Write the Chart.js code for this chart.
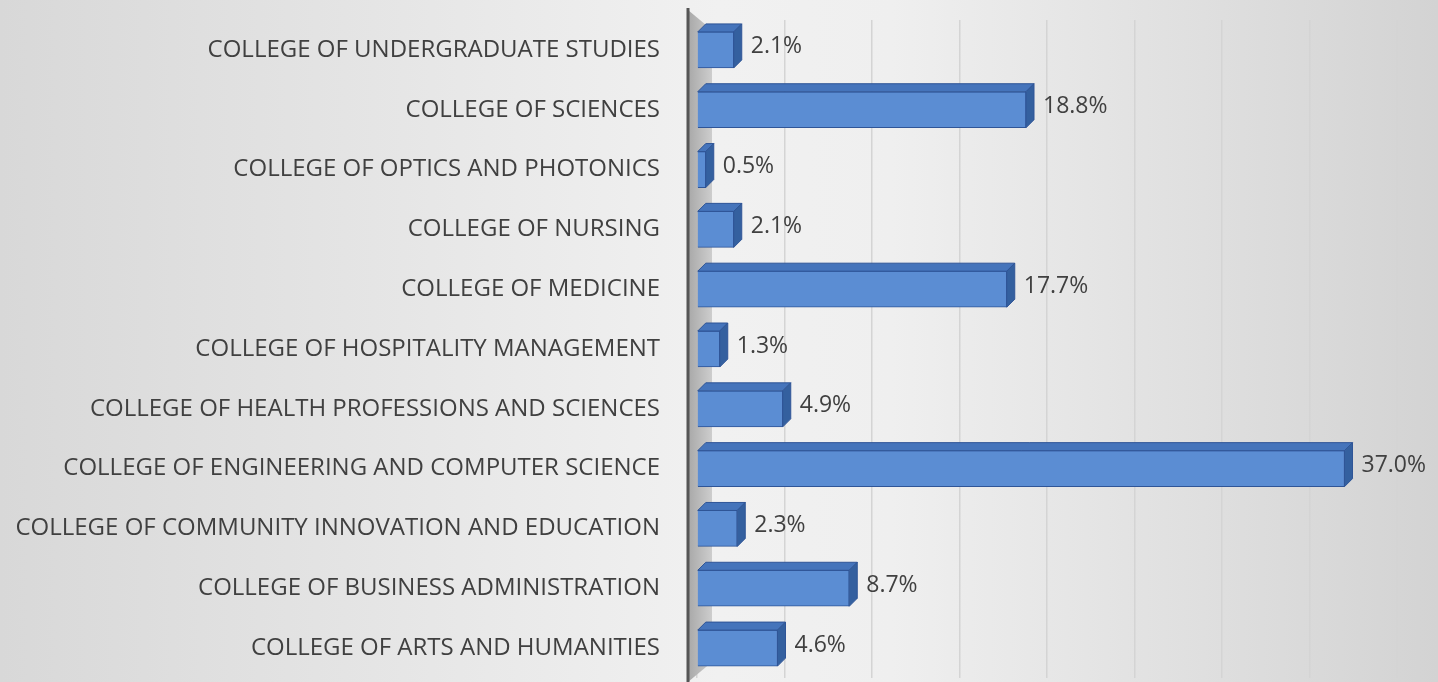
<!DOCTYPE html>
<html>
<head>
<meta charset="utf-8">
<script src="https://cdn.jsdelivr.net/npm/chart.js@4/dist/chart.umd.min.js"></script>
<style>
  html, body { margin: 0; padding: 0; background: #e6e6e6; }
  #wrap { width: 1438px; height: 682px; position: relative; }
</style>
</head>
<body>
<div id="wrap"><canvas id="collegeChart"></canvas></div>
<script>
// colleges, top to bottom as in the picture
const categories = [
  "COLLEGE OF UNDERGRADUATE STUDIES",
  "COLLEGE OF SCIENCES",
  "COLLEGE OF OPTICS AND PHOTONICS",
  "COLLEGE OF NURSING",
  "COLLEGE OF MEDICINE",
  "COLLEGE OF HOSPITALITY MANAGEMENT",
  "COLLEGE OF HEALTH PROFESSIONS AND SCIENCES",
  "COLLEGE OF ENGINEERING AND COMPUTER SCIENCE",
  "COLLEGE OF COMMUNITY INNOVATION AND EDUCATION",
  "COLLEGE OF BUSINESS ADMINISTRATION",
  "COLLEGE OF ARTS AND HUMANITIES"
];
const shares = [2.1, 18.8, 0.5, 2.1, 17.7, 1.3, 4.9, 37.0, 2.3, 8.7, 4.6];
const xMax = 40;
const xStep = 5;

const DEPTH = 8;
const textColor = "#404040";

// gradient background
const backdrop = {
  id: "backdrop",
  beforeDraw(chart) {
    const { ctx, width, height } = chart;
    const g = ctx.createLinearGradient(0, 0, width, 0);
    g.addColorStop(0, "#d8d8d8");
    g.addColorStop(0.5, "#f1f1f1");
    g.addColorStop(0.62, "#efefef");
    g.addColorStop(1, "#d3d3d3");
    ctx.save();
    ctx.fillStyle = g;
    ctx.fillRect(0, 0, width, height);
    ctx.restore();
  }
};

// 3D side wall + axis line
const sideWall = {
  id: "sideWall",
  beforeDatasetsDraw(chart) {
    const { ctx, chartArea: a, height } = chart;
    const l = a.left - 9, r = a.left + 15;
    ctx.save();
    const g = ctx.createLinearGradient(l, 0, r, 0);
    g.addColorStop(0, "#a8a8a8");
    g.addColorStop(1, "#cdcdcd");
    ctx.fillStyle = g;
    ctx.beginPath();
    ctx.moveTo(l, 10);
    ctx.lineTo(r, 30);
    ctx.lineTo(r, height - 20);
    ctx.lineTo(l, height);
    ctx.closePath();
    ctx.fill();
    ctx.strokeStyle = "#555555";
    ctx.lineWidth = 3;
    ctx.beginPath();
    ctx.moveTo(l, 8);
    ctx.lineTo(l, height);
    ctx.stroke();
    ctx.restore();
  }
};

// top and side faces of each bar, then value labels
const bars3d = {
  id: "bars3d",
  afterDatasetsDraw(chart) {
    const { ctx } = chart;
    const meta = chart.getDatasetMeta(0);
    ctx.save();
    meta.data.forEach((bar, i) => {
      const { x, y, base, height } = bar.getProps(["x", "y", "base", "height"], true);
      const top = y - height / 2, bottom = y + height / 2;
      ctx.fillStyle = "#4574bb";
      ctx.strokeStyle = "#2f5597";
      ctx.lineWidth = 1;
      ctx.beginPath();
      ctx.moveTo(base, top);
      ctx.lineTo(base + DEPTH, top - DEPTH);
      ctx.lineTo(x + DEPTH, top - DEPTH);
      ctx.lineTo(x, top);
      ctx.closePath();
      ctx.fill();
      ctx.stroke();
      ctx.fillStyle = "#34609f";
      ctx.beginPath();
      ctx.moveTo(x, top);
      ctx.lineTo(x + DEPTH, top - DEPTH);
      ctx.lineTo(x + DEPTH, bottom - DEPTH);
      ctx.lineTo(x, bottom);
      ctx.closePath();
      ctx.fill();
      ctx.stroke();

      ctx.fillStyle = textColor;
      ctx.font = "23px 'Open Sans'";
      ctx.textAlign = "left";
      ctx.textBaseline = "middle";
      ctx.fillText(shares[i].toFixed(1) + "%", x + DEPTH + 9, y - 3);
    });
    ctx.restore();
  }
};

new Chart(document.getElementById("collegeChart"), {
  type: "bar",
  data: {
    labels: categories,
    datasets: [{
      data: shares,
      backgroundColor: "#5b8dd3",
      borderColor: "#2f5597",
      borderWidth: 1,
      barThickness: 36
    }]
  },
  options: {
    indexAxis: "y",
    responsive: true,
    maintainAspectRatio: false,
    animation: false,
    layout: { padding: { left: 0, right: 41, top: 20, bottom: 4 } },
    plugins: { legend: { display: false }, tooltip: { enabled: false } },
    scales: {
      x: {
        min: 0,
        max: xMax,
        ticks: { display: false, stepSize: xStep, padding: 0 },
        grid: { color: "#d4d4d4", lineWidth: 1.5, drawTicks: false },
        border: { display: false },
        afterFit(scale) {
          scale.height = 0;
          scale.paddingLeft = 0; scale.paddingRight = 0;
        }
      },
      y: {
        grid: { display: false },
        border: { display: false },
        ticks: {
          color: textColor,
          font: { family: "'Open Sans'", size: 24 },
          padding: 29
        },
        afterFit(scale) {
          scale.width = 697;
          scale.paddingTop = 0; scale.paddingBottom = 0;
        }
      }
    }
  },
  plugins: [backdrop, sideWall, bars3d]
});
</script>
</body>
</html>
